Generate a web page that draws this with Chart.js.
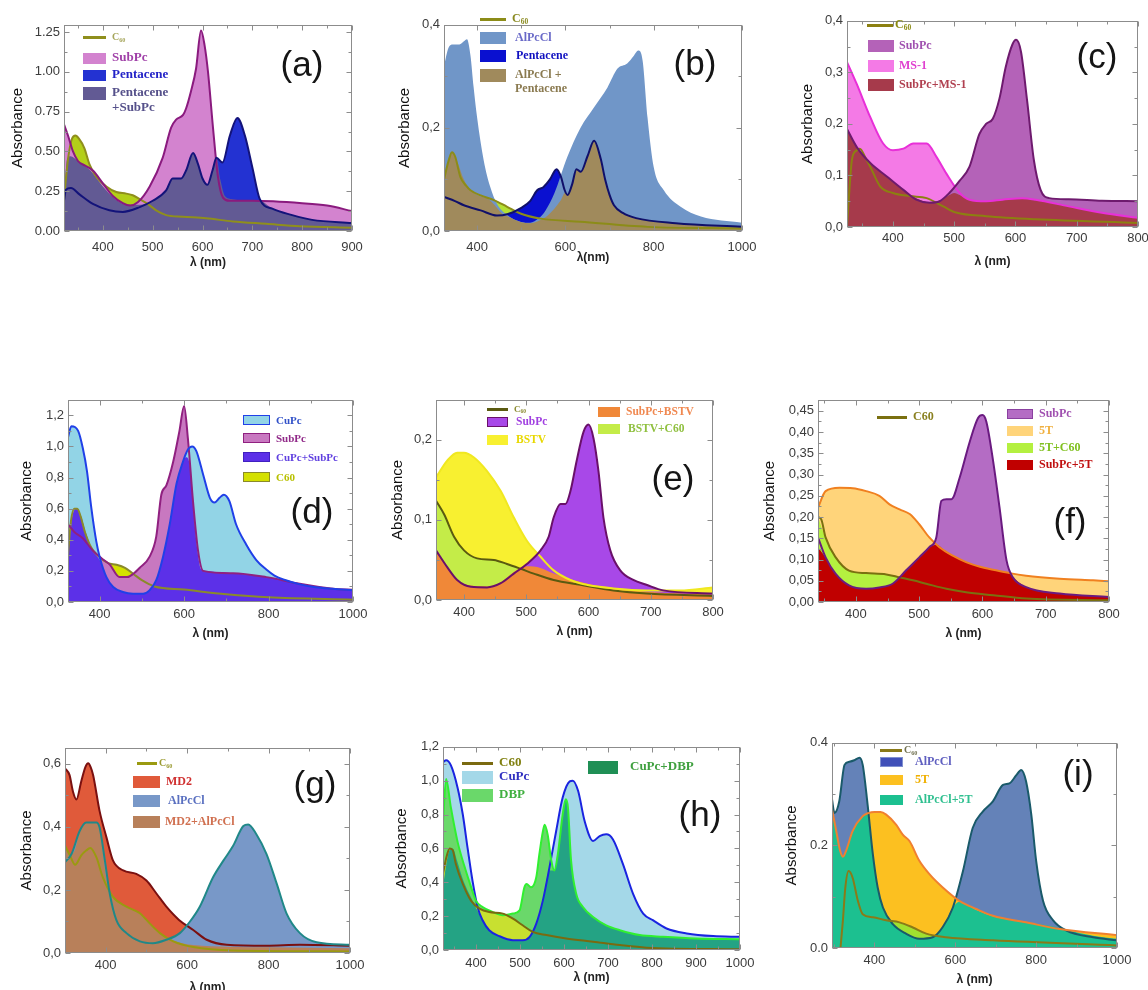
<!DOCTYPE html>
<html><head><meta charset="utf-8">
<script src="https://cdn.jsdelivr.net/npm/chart.js"></script>
<style>
body{margin:0;background:#fff;width:1148px;height:990px;position:relative;overflow:hidden;font-family:"Liberation Sans",Arial,sans-serif}
canvas.cv{position:absolute}
.bx{position:absolute;box-sizing:border-box}
.lt{position:absolute;font-family:"Liberation Serif","Times New Roman",serif;font-weight:bold;white-space:nowrap;line-height:1.15}
.lt sub{font-size:62%;vertical-align:-0.25em}
.tag{position:absolute;font-family:"Liberation Sans",Arial,sans-serif;color:#151515;line-height:1;transform:translate(-50%,-50%)}
</style></head><body>
<script>
// ---------- data: wavelength (nm) and absorbance ----------
// (a)
const a_c60_nm=[322,330,338,345,352,363,373,387,407,427,447,460,474,490,507,527,560,607,661,728,795,900];
const a_c60_abs=[0.2,0.45,0.58,0.6,0.58,0.52,0.42,0.34,0.28,0.245,0.235,0.225,0.2,0.17,0.13,0.1,0.09,0.08,0.06,0.045,0.03,0.02];
const a_subpc_nm=[322,330,340,350,365,380,400,420,440,455,470,494,520,537,547,561,567,577,587,597,604,611,621,631,641,654,700,800,850,900];
const a_subpc_abs=[0.67,0.6,0.5,0.44,0.41,0.38,0.3,0.22,0.175,0.16,0.18,0.28,0.46,0.65,0.7,0.73,0.77,0.88,1.02,1.26,1.17,1.0,0.65,0.34,0.21,0.19,0.19,0.175,0.16,0.125];
const a_pent_nm=[322,326,336,353,380,413,440,474,500,527,540,557,567,581,591,600,610,620,628,640,655,670,685,700,715,740,780,820,900];
const a_pent_abs=[0.19,0.26,0.27,0.23,0.17,0.13,0.12,0.15,0.19,0.255,0.33,0.33,0.38,0.49,0.42,0.33,0.29,0.38,0.46,0.43,0.6,0.71,0.6,0.4,0.2,0.14,0.1,0.07,0.05];
const a_mix_nm=[322,328,335,350,375,400,425,450,475,500,527,540,557,567,581,591,600,610,620,628,636,645,660,700,715,740,780,820,900];
const a_mix_abs=[0.19,0.45,0.47,0.44,0.38,0.28,0.2,0.165,0.165,0.19,0.255,0.33,0.33,0.38,0.49,0.42,0.33,0.29,0.38,0.46,0.32,0.22,0.2,0.19,0.19,0.14,0.1,0.07,0.05];
// (b)
const b_c60_nm=[325,335,343,350,362,375,385,408,438,468,498,544,634,786,1000];
const b_c60_abs=[0.1,0.135,0.153,0.145,0.105,0.088,0.079,0.069,0.06,0.047,0.034,0.024,0.018,0.008,0.005];
const b_alpc_nm=[325,335,345,360,370,377,385,392,400,415,430,445,468,498,520,540,555,575,604,634,665,695,718,740,755,765,775,786,800,823,861,907,1000];
const b_alpc_abs=[0.32,0.355,0.362,0.362,0.368,0.372,0.34,0.28,0.22,0.137,0.085,0.053,0.031,0.018,0.016,0.025,0.04,0.073,0.143,0.2,0.24,0.278,0.315,0.325,0.34,0.35,0.33,0.22,0.124,0.079,0.047,0.028,0.016];
const b_pent_nm=[325,350,370,408,445,470,500,520,536,550,565,580,590,598,605,615,625,635,650,665,680,690,700,710,730,760,850,1000];
const b_pent_abs=[0.066,0.058,0.05,0.04,0.03,0.033,0.045,0.058,0.079,0.085,0.1,0.12,0.105,0.08,0.07,0.09,0.12,0.115,0.145,0.175,0.14,0.1,0.07,0.05,0.035,0.025,0.015,0.008];
const b_mix_nm=[325,335,345,355,370,385,400,425,440,455,470,500,520,540,560,590,600,605,615,625,635,650,665,680,690,700,710,730,760,850,1000];
const b_mix_abs=[0.1,0.135,0.152,0.135,0.1,0.08,0.07,0.062,0.05,0.035,0.028,0.017,0.015,0.02,0.03,0.06,0.075,0.07,0.09,0.12,0.115,0.145,0.175,0.14,0.1,0.07,0.05,0.035,0.025,0.015,0.008];
// (c)
const c_c60_nm=[325,333,340,346,355,363,379,400,428,455,482,503,552,633,800];
const c_c60_abs=[0.0,0.13,0.148,0.152,0.135,0.117,0.079,0.066,0.06,0.056,0.04,0.028,0.021,0.015,0.008];
const c_subpc_nm=[325,341,363,390,417,438,460,476,492,509,525,541,552,563,574,584,595,601,609,619,630,641,655,687,741,800];
const c_subpc_abs=[0.19,0.155,0.124,0.098,0.072,0.053,0.047,0.05,0.066,0.09,0.117,0.18,0.2,0.21,0.25,0.31,0.354,0.363,0.34,0.245,0.13,0.072,0.056,0.054,0.051,0.05];
const c_ms1_nm=[325,341,363,384,400,417,433,455,471,487,509,525,552,579,611,633,687,741,800];
const c_ms1_abs=[0.32,0.277,0.213,0.162,0.149,0.152,0.162,0.162,0.136,0.104,0.066,0.053,0.05,0.053,0.056,0.053,0.04,0.0275,0.018];
const c_mix_nm=[325,341,363,390,417,438,460,476,492,500,509,525,552,579,611,633,687,741,800];
const c_mix_abs=[0.19,0.155,0.124,0.098,0.072,0.056,0.048,0.05,0.062,0.066,0.062,0.053,0.05,0.053,0.056,0.053,0.04,0.0275,0.018];
// (d)
const d_c60_nm=[325,332,340,347,355,365,380,395,420,440,460,480,500,530,600,700,800,1000];
const d_c60_abs=[0.3,0.52,0.6,0.6,0.55,0.45,0.35,0.3,0.25,0.24,0.22,0.18,0.14,0.1,0.08,0.05,0.03,0.015];
const d_cupc_nm=[325,333,349,360,370,380,392,400,416,432,455,479,503,518,534,550,566,582,597,609,619,629,645,661,672,684,694,707,723,747,771,794,814,841,872,912,951,1000];
const d_cupc_abs=[1.06,1.13,1.1,0.99,0.84,0.61,0.39,0.29,0.16,0.096,0.064,0.053,0.053,0.075,0.14,0.29,0.5,0.76,0.9,0.98,1.0,0.97,0.82,0.67,0.64,0.67,0.69,0.65,0.5,0.37,0.27,0.21,0.17,0.14,0.115,0.095,0.085,0.075];
const d_subpc_nm=[325,340,360,384,405,424,447,465,479,495,518,534,546,558,574,589,600,609,621,633,645,716,795,874,953,1000];
const d_subpc_abs=[0.5,0.45,0.41,0.33,0.28,0.24,0.16,0.16,0.18,0.22,0.29,0.42,0.69,0.75,0.9,1.1,1.26,1.05,0.65,0.33,0.2,0.185,0.16,0.117,0.085,0.079];
const d_mix_nm=[325,335,345,355,368,380,392,400,416,432,455,479,503,518,534,550,566,582,597,605,612,617,625,633,640,650,716,795,874,953,1000];
const d_mix_abs=[0.33,0.55,0.6,0.56,0.44,0.35,0.3,0.27,0.16,0.1,0.066,0.055,0.055,0.075,0.14,0.29,0.5,0.76,0.9,0.93,0.9,0.8,0.5,0.3,0.21,0.2,0.185,0.16,0.117,0.085,0.079];
// (e)
const e_c60_nm=[355,368,384,400,421,448,469,491,512,544,587,640,693,800];
const e_c60_abs=[0.124,0.107,0.079,0.062,0.052,0.05,0.045,0.039,0.033,0.025,0.019,0.012,0.008,0.005];
const e_subpc_nm=[355,373,389,411,437,459,480,501,523,536,544,555,563,571,581,592,600,608,616,624,635,651,672,693,720,800];
const e_subpc_abs=[0.062,0.041,0.025,0.0165,0.0157,0.021,0.033,0.045,0.062,0.079,0.103,0.12,0.12,0.136,0.174,0.21,0.219,0.202,0.161,0.103,0.062,0.037,0.025,0.019,0.012,0.008];
const e_bstv_nm=[355,373,389,400,416,437,459,480,501,523,544,571,597,640,693,747,800];
const e_bstv_abs=[0.153,0.174,0.184,0.184,0.178,0.161,0.136,0.103,0.074,0.054,0.037,0.025,0.019,0.0145,0.012,0.012,0.0157];
const e_sb_nm=[355,373,389,411,437,459,480,501,523,544,571,600,650,700,800];
const e_sb_abs=[0.062,0.041,0.025,0.018,0.017,0.022,0.035,0.042,0.04,0.033,0.026,0.02,0.014,0.01,0.007];
const e_bc_nm=[355,368,384,400,421,448,469,491,500,512,530,560,600,700,800];
const e_bc_abs=[0.124,0.107,0.079,0.062,0.052,0.05,0.045,0.039,0.036,0.03,0.022,0.016,0.012,0.008,0.005];
// (f)
const f_c60_nm=[340,345,352,368,389,416,448,469,490,511,543,574,617,669,800];
const f_c60_abs=[0.2,0.195,0.152,0.105,0.074,0.068,0.065,0.058,0.051,0.043,0.031,0.023,0.016,0.008,0.004];
const f_subpc_nm=[340,352,368,389,416,437,458,479,500,516,527,535,543,551,564,580,593,600,606,617,627,638,648,669,722,800];
const f_subpc_abs=[0.152,0.105,0.066,0.039,0.031,0.034,0.043,0.074,0.105,0.129,0.152,0.238,0.242,0.242,0.293,0.378,0.433,0.44,0.425,0.33,0.222,0.098,0.058,0.035,0.02,0.012];
const f_5t_nm=[340,352,374,395,416,437,453,469,485,500,516,532,553,574,596,617,643,669,722,775,800];
const f_5t_abs=[0.222,0.261,0.269,0.268,0.261,0.25,0.23,0.218,0.207,0.183,0.152,0.129,0.109,0.094,0.083,0.076,0.068,0.062,0.055,0.051,0.049];
const f_5tc_nm=[340,352,368,389,416,448,469,490,511,543,600,700,800];
const f_5tc_abs=[0.2,0.15,0.105,0.074,0.068,0.065,0.058,0.05,0.04,0.03,0.02,0.012,0.006];
const f_mix_nm=[340,352,368,389,416,437,458,479,500,516,527,540,553,574,596,617,635,643,648,669,722,800];
const f_mix_abs=[0.129,0.105,0.066,0.039,0.031,0.034,0.043,0.074,0.105,0.129,0.135,0.122,0.109,0.094,0.083,0.076,0.07,0.066,0.058,0.035,0.02,0.012];
// (g)
const g_c60_nm=[300,312,325,340,352,362,377,393,418,451,484,508,533,566,615,713,1000];
const g_c60_abs=[0.34,0.31,0.28,0.31,0.325,0.333,0.304,0.24,0.178,0.147,0.126,0.094,0.063,0.037,0.019,0.008,0.005];
const g_md2_nm=[300,311,320,328,340,350,357,363,369,385,402,418,443,475,500,525,549,580,615,648,697,795,877,1000];
const g_md2_abs=[0.586,0.565,0.51,0.487,0.545,0.59,0.602,0.59,0.565,0.45,0.366,0.293,0.262,0.251,0.23,0.188,0.147,0.105,0.073,0.042,0.026,0.023,0.026,0.023];
const g_alpc_nm=[300,316,336,352,377,385,398,410,426,451,484,516,549,582,607,631,664,689,713,738,750,770,795,820,844,877,918,1000];
const g_alpc_abs=[0.288,0.314,0.387,0.414,0.414,0.398,0.293,0.188,0.105,0.063,0.037,0.031,0.042,0.063,0.1,0.147,0.241,0.293,0.34,0.403,0.408,0.377,0.314,0.22,0.126,0.063,0.034,0.026];
const g_mix_nm=[300,312,325,336,352,377,385,393,400,405,418,451,484,508,533,566,615,700,800,1000];
const g_mix_abs=[0.345,0.31,0.33,0.387,0.414,0.414,0.398,0.32,0.25,0.22,0.178,0.147,0.126,0.094,0.063,0.04,0.025,0.02,0.018,0.015];
// (h)
const h_c60_nm=[325,333,340,347,354,370,389,408,430,461,484,506,529,560,605,666,727,787,1000];
const h_c60_abs=[0.45,0.55,0.6,0.59,0.51,0.39,0.29,0.244,0.224,0.215,0.185,0.146,0.107,0.088,0.068,0.049,0.029,0.014,0.004];
const h_cupc_nm=[325,332,343,358,370,381,392,404,415,430,453,484,506,522,537,552,567,582,597,613,620,632,647,666,681,696,711,734,757,780,802,833,879,939,1000];
const h_cupc_abs=[1.11,1.12,1.09,0.96,0.8,0.6,0.41,0.25,0.176,0.117,0.082,0.058,0.058,0.078,0.156,0.293,0.488,0.7,0.9,0.996,1.0,0.94,0.76,0.644,0.673,0.683,0.654,0.507,0.332,0.215,0.176,0.127,0.098,0.082,0.078];
const h_dbp_nm=[325,332,343,358,373,389,400,415,438,461,484,499,510,515,525,537,544,552,556,563,571,578,586,597,604,609,616,628,643,666,696,727,772,825,901,1000];
const h_dbp_abs=[0.75,1.01,0.84,0.64,0.5,0.37,0.29,0.254,0.224,0.205,0.215,0.234,0.37,0.39,0.37,0.43,0.566,0.7,0.74,0.68,0.53,0.47,0.566,0.8,0.89,0.84,0.53,0.33,0.254,0.195,0.146,0.117,0.088,0.078,0.068,0.064];
const h_mix_nm=[325,332,340,347,358,370,385,400,415,430,453,484,506,522,537,552,567,578,586,597,604,609,616,628,643,666,696,727,772,825,901,1000];
const h_mix_abs=[0.37,0.5,0.59,0.6,0.52,0.42,0.33,0.25,0.176,0.117,0.08,0.058,0.058,0.078,0.156,0.293,0.47,0.47,0.566,0.8,0.89,0.84,0.53,0.33,0.254,0.195,0.146,0.117,0.088,0.078,0.068,0.064];
// (i)
const i_c60_nm=[316,322,328,336,346,359,371,396,429,462,495,528,577,693,1000];
const i_c60_abs=[0.0,0.054,0.118,0.15,0.137,0.092,0.066,0.06,0.054,0.05,0.04,0.028,0.021,0.015,0.005];
const i_alpc_nm=[295,301,313,326,338,350,363,371,383,396,408,421,445,478,511,544,569,594,619,643,668,693,718,734,751,763,775,788,800,817,842,875,941,1000];
const i_alpc_abs=[0.29,0.263,0.286,0.357,0.363,0.366,0.371,0.357,0.28,0.183,0.118,0.079,0.047,0.028,0.018,0.021,0.041,0.079,0.15,0.234,0.266,0.286,0.318,0.321,0.337,0.347,0.325,0.26,0.17,0.092,0.054,0.034,0.021,0.015];
const i_5t_nm=[295,305,315,322,330,346,371,385,400,415,429,454,470,487,511,536,569,610,652,693,775,858,1000];
const i_5t_abs=[0.27,0.23,0.19,0.178,0.19,0.228,0.257,0.263,0.265,0.265,0.26,0.24,0.221,0.208,0.17,0.144,0.118,0.092,0.076,0.063,0.05,0.037,0.025];
const i_mix_nm=[295,305,315,322,330,346,371,383,390,396,408,421,445,478,511,544,569,594,610,652,693,775,842,875,941,1000];
const i_mix_abs=[0.27,0.23,0.19,0.178,0.19,0.228,0.257,0.262,0.23,0.183,0.118,0.079,0.047,0.028,0.018,0.021,0.041,0.079,0.09,0.074,0.062,0.05,0.042,0.035,0.024,0.018];

// ---------- tick values / labels ----------
const X_100_400_900=[400,500,600,700,800,900];
const X_200_400_1000=[400,600,800,1000];
const X_100_400_800=[400,500,600,700,800];
const X_100_400_1000=[400,500,600,700,800,900,1000];
const Y_A=[0,0.25,0.5,0.75,1,1.25], Y_A_LBL=['0.00','0.25','0.50','0.75','1.00','1.25'];
const Y_B=[0,0.2,0.4], Y_B_LBL=['0,0','0,2','0,4'];
const Y_C=[0,0.1,0.2,0.3,0.4], Y_C_LBL=['0,0','0,1','0,2','0,3','0,4'];
const Y_D=[0,0.2,0.4,0.6,0.8,1.0,1.2], Y_D_LBL=['0,0','0,2','0,4','0,6','0,8','1,0','1,2'];
const Y_E=[0,0.1,0.2], Y_E_LBL=['0,0','0,1','0,2'];
const Y_F=[0,0.05,0.1,0.15,0.2,0.25,0.3,0.35,0.4,0.45], Y_F_LBL=['0,00','0,05','0,10','0,15','0,20','0,25','0,30','0,35','0,40','0,45'];
const Y_G=[0,0.2,0.4,0.6], Y_G_LBL=['0,0','0,2','0,4','0,6'];
const Y_I=[0,0.2,0.4], Y_I_LBL=['0.0','0.2','0.4'];

const SANS='"Liberation Sans", Arial, sans-serif';
const C60H='C<sub>60</sub>';

const panels=[
 {tag:'(a)',tx:302,ty:63,frame:{l:64,t:23,r:352,b:231},xMin:322,xMax:900,yMax:1.296,
  xT:X_100_400_900,xMinor:50,yT:Y_A,yL:Y_A_LBL,yMinor:0.125,yTitleX:18,xTickOff:16,xTitleOff:32,xTitle:'λ (nm)',
  series:[
   {nm:a_mix_nm,abs:a_mix_abs,fill:'#625a94'},
   {nm:a_pent_nm,abs:a_pent_abs,fill:'#2332d2',line:'#13137a'},
   {nm:a_subpc_nm,abs:a_subpc_abs,fill:'#d383cf',line:'#8a1a7e'},
   {nm:a_c60_nm,abs:a_c60_abs,fill:'#b3cf19',line:'#8f8f1c'}],
  legend:[
   {k:'line',x:83,y:37,w:23,bg:'#8f8f1c',t:C60H,c:'#a5a55a',fs:10},
   {k:'box',x:83,y:58,w:23,h:11,bg:'#d383cf',t:'SubPc',c:'#a040a8',fs:13},
   {k:'box',x:83,y:75,w:23,h:11,bg:'#2332d2',t:'Pentacene',c:'#2323c8',fs:13},
   {k:'box',x:83,y:93,w:23,h:13,bg:'#625a94',t:'Pentacene<br>+SubPc',c:'#55508a',fs:13}]},
 {tag:'(b)',tx:695,ty:62,frame:{l:444,t:23,r:742,b:231},xMin:325,xMax:1000,yMax:0.4,
  xT:X_200_400_1000,xMinor:100,yT:Y_B,yL:Y_B_LBL,yMinor:0.1,yTitleX:405,xTickOff:16,xTitleOff:27,xTitle:'λ(nm)',
  series:[
   {nm:b_mix_nm,abs:b_mix_abs,fill:'#a08a5c'},
   {nm:b_alpc_nm,abs:b_alpc_abs,fill:'#7096c8'},
   {nm:b_pent_nm,abs:b_pent_abs,fill:'#0a10d0',line:'#10106a'},
   {nm:b_c60_nm,abs:b_c60_abs,fill:'#b4e034',line:'#8c8c18'}],
  legend:[
   {k:'line',x:480,y:19,w:26,bg:'#8c8c18',t:C60H,c:'#8a8a20',fs:12},
   {k:'box',x:480,y:38,w:26,h:12,bg:'#7096c8',t:'AlPcCl',c:'#6a6ac8',fs:12,gap:9},
   {k:'box',x:480,y:56,w:26,h:12,bg:'#0a10d0',t:'Pentacene',c:'#1010c0',fs:12,gap:10},
   {k:'box',x:480,y:75,w:26,h:13,bg:'#a08a5c',t:'AlPcCl +<br>Pentacene',c:'#8a7a50',fs:12,gap:9}]},
 {tag:'(c)',tx:1097,ty:55,frame:{l:847,t:19,r:1138,b:227},xMin:325,xMax:800,yMax:0.4,
  xT:X_100_400_800,xMinor:50,yT:Y_C,yL:Y_C_LBL,yMinor:0.05,yTitleX:808,xTickOff:11,xTitleOff:35,xTitle:'λ (nm)',
  series:[
   {nm:c_mix_nm,abs:c_mix_abs,fill:'#a63a4b'},
   {nm:c_subpc_nm,abs:c_subpc_abs,fill:'#b462b8',line:'#6e1a6e'},
   {nm:c_ms1_nm,abs:c_ms1_abs,fill:'#f47ae6',line:'#e830d8'},
   {nm:c_c60_nm,abs:c_c60_abs,line:'#8c8010'}],
  legend:[
   {k:'line',x:867,y:25,w:26,bg:'#8c8010',t:C60H,c:'#8a8a10',fs:12,gap:2},
   {k:'box',x:868,y:46,w:26,h:12,bg:'#b462b8',t:'SubPc',c:'#a050b0',fs:12,gap:5},
   {k:'box',x:868,y:66,w:26,h:12,bg:'#f47ae6',t:'MS-1',c:'#e040d0',fs:12,gap:5},
   {k:'box',x:868,y:85,w:26,h:12,bg:'#a63a4b',t:'SubPc+MS-1',c:'#b04050',fs:12,gap:5}]},
 {tag:'(d)',tx:312,ty:510,frame:{l:68,t:398,r:353,b:602},xMin:325,xMax:1000,yMax:1.30,
  xT:X_200_400_1000,xMinor:100,yT:Y_D,yL:Y_D_LBL,yMinor:0.1,yTitleX:27,xTickOff:12,xTitleOff:32,xTitle:'λ (nm)',
  series:[
   {nm:d_mix_nm,abs:d_mix_abs,fill:'#5c30e8'},
   {nm:d_cupc_nm,abs:d_cupc_abs,fill:'#92d4e6',line:'#2040e8'},
   {nm:d_subpc_nm,abs:d_subpc_abs,fill:'#c878c0',line:'#902080'},
   {nm:d_c60_nm,abs:d_c60_abs,fill:'#d4e000',line:'#8a8a2a'}],
  legend:[
   {k:'box',x:243,y:420,w:27,h:10,bg:'#92d4e6',bd:'#2040e8',t:'CuPc',c:'#3050c8',fs:11},
   {k:'box',x:243,y:438,w:27,h:10,bg:'#c878c0',bd:'#902080',t:'SubPc',c:'#902888',fs:11},
   {k:'box',x:243,y:457,w:27,h:10,bg:'#5c30e8',bd:'#4020c0',t:'CuPc+SubPc',c:'#6040e0',fs:11},
   {k:'box',x:243,y:477,w:27,h:10,bg:'#d4e000',bd:'#8a8a2a',t:'C60',c:'#b8c000',fs:11}]},
 {tag:'(e)',tx:673,ty:477,frame:{l:436,t:398,r:713,b:600},xMin:355,xMax:800,yMax:0.25,
  xT:X_100_400_800,xMinor:50,yT:Y_E,yL:Y_E_LBL,yMinor:0.05,yTitleX:398,xTickOff:12,xTitleOff:32,xTitle:'λ (nm)',
  series:[
   {nm:e_sb_nm,abs:e_sb_abs,fill:'#f08838'},
   {nm:e_bc_nm,abs:e_bc_abs,fill:'#c4ec48'},
   {nm:e_subpc_nm,abs:e_subpc_abs,fill:'#a848e8',line:'#6a106a'},
   {nm:e_bstv_nm,abs:e_bstv_abs,fill:'#f8f030',line:'#f0e820'},
   {nm:e_c60_nm,abs:e_c60_abs,line:'#5a5a10'}],
  legend:[
   {k:'line',x:487,y:409,w:21,bg:'#5a5a10',t:C60H,c:'#8a8a30',fs:9},
   {k:'box',x:487,y:422,w:21,h:10,bg:'#a848e8',bd:'#6a106a',t:'SubPc',c:'#a040e0',fs:11.5,gap:8},
   {k:'box',x:487,y:440,w:21,h:10,bg:'#f8f030',t:'BSTV',c:'#e8d800',fs:11.5,gap:8},
   {k:'box',x:598,y:412,w:22,h:10,bg:'#f08838',t:'SubPc+BSTV',c:'#f08850',fs:11.5},
   {k:'box',x:598,y:429,w:22,h:10,bg:'#c4ec48',t:'BSTV+C60',c:'#90c040',fs:11.5,gap:8}]},
 {tag:'(f)',tx:1070,ty:520,frame:{l:818,t:398,r:1109,b:602},xMin:340,xMax:800,yMax:0.476,
  xT:X_100_400_800,xMinor:50,yT:Y_F,yL:Y_F_LBL,yMinor:0.025,yTitleX:770,xTickOff:12,xTitleOff:32,xTitle:'λ (nm)',
  series:[
   {nm:f_mix_nm,abs:f_mix_abs,fill:'#c00000'},
   {nm:f_5tc_nm,abs:f_5tc_abs,fill:'#b4f040'},
   {nm:f_subpc_nm,abs:f_subpc_abs,fill:'#b46cc4',line:'#6a1a80'},
   {nm:f_5t_nm,abs:f_5t_abs,fill:'#ffd47a',line:'#f08020'},
   {nm:f_c60_nm,abs:f_c60_abs,line:'#7a7010'}],
  legend:[
   {k:'line',x:877,y:417,w:30,bg:'#7a7010',t:'C60',c:'#8a8020',fs:12},
   {k:'box',x:1007,y:414,w:26,h:10,bg:'#b46cc4',bd:'#8a40a0',t:'SubPc',c:'#a050b0',fs:12},
   {k:'box',x:1007,y:431,w:26,h:10,bg:'#ffd47a',t:'5T',c:'#f0b040',fs:12},
   {k:'box',x:1007,y:448,w:26,h:10,bg:'#b4f040',t:'5T+C60',c:'#80c020',fs:12},
   {k:'box',x:1007,y:465,w:26,h:10,bg:'#c00000',t:'SubPc+5T',c:'#c01010',fs:12}]},
 {tag:'(g)',tx:315,ty:783,frame:{l:65,t:746,r:350,b:953},xMin:300,xMax:1000,yMax:0.651,
  xT:X_200_400_1000,xMinor:100,yT:Y_G,yL:Y_G_LBL,yMinor:0.1,yTitleX:27,xTickOff:12,xTitleOff:35,xTitle:'λ (nm)',
  series:[
   {nm:g_mix_nm,abs:g_mix_abs,fill:'#b8805a'},
   {nm:g_alpc_nm,abs:g_alpc_abs,fill:'#7898c8',line:'#208888'},
   {nm:g_md2_nm,abs:g_md2_abs,fill:'#e05a3a',line:'#7a1010'},
   {nm:g_c60_nm,abs:g_c60_abs,line:'#9a9a10'}],
  legend:[
   {k:'line',x:137,y:763,w:20,bg:'#9a9a10',t:C60H,c:'#9a9a30',fs:10,gap:2},
   {k:'box',x:133,y:782,w:27,h:12,bg:'#e05a3a',t:'MD2',c:'#d03030',fs:12},
   {k:'box',x:133,y:801,w:27,h:12,bg:'#7898c8',t:'AlPcCl',c:'#5a70c0',fs:12,gap:8},
   {k:'box',x:133,y:822,w:27,h:12,bg:'#b8805a',t:'MD2+AlPcCl',c:'#d07050',fs:12,gap:5}]},
 {tag:'(h)',tx:700,ty:813,frame:{l:443,t:745,r:740,b:950},xMin:325,xMax:1000,yMax:1.2,
  xT:X_100_400_1000,xMinor:50,yT:Y_D,yL:Y_D_LBL,yMinor:0.1,yTitleX:402,xTickOff:13,xTitleOff:28,xTitle:'λ (nm)',
  series:[
   {nm:h_mix_nm,abs:h_mix_abs,fill:'#24a384'},
   {nm:h_c60_nm,abs:h_c60_abs,fill:'#c8e030',line:'#7a6a10'},
   {nm:h_dbp_nm,abs:h_dbp_abs,fill:'#6ad86a',line:'#30f030'},
   {nm:h_cupc_nm,abs:h_cupc_abs,fill:'#a4d8e8',line:'#1a24e0'}],
  legend:[
   {k:'line',x:462,y:763,w:31,bg:'#7a6a10',t:'C60',c:'#808010',fs:13},
   {k:'box',x:462,y:777,w:31,h:13,bg:'#a4d8e8',t:'CuPc',c:'#3030c0',fs:13},
   {k:'box',x:462,y:795,w:31,h:13,bg:'#6ad86a',t:'DBP',c:'#40b040',fs:13},
   {k:'box',x:588,y:767,w:30,h:13,bg:'#1f8f55',t:'CuPc+DBP',c:'#40a040',fs:13,gap:12}]},
 {tag:'(i)',tx:1078,ty:772,frame:{l:832,t:741,r:1117,b:948},xMin:295,xMax:1000,yMax:0.4,
  xT:X_200_400_1000,xMinor:100,yT:Y_I,yL:Y_I_LBL,yMinor:0.1,yTitleX:792,xTickOff:12,xTitleOff:32,xTitle:'λ (nm)',
  series:[
   {nm:i_mix_nm,abs:i_mix_abs,fill:'#1cc090'},
   {nm:i_c60_nm,abs:i_c60_abs,fill:'#a0e030',line:'#8a7a18'},
   {nm:i_5t_nm,abs:i_5t_abs,fill:'#fcc020',line:'#f08030'},
   {nm:i_alpc_nm,abs:i_alpc_abs,fill:'#6482b8',line:'#1a5a6a'}],
  legend:[
   {k:'line',x:880,y:750,w:22,bg:'#8a7a18',t:C60H,c:'#707050',fs:10,gap:2},
   {k:'box',x:880,y:762,w:23,h:10,bg:'#4050b8',bd:'#8090d0',t:'AlPcCl',c:'#6060c0',fs:12,gap:12},
   {k:'box',x:880,y:780,w:23,h:10,bg:'#fcc020',t:'5T',c:'#f0b000',fs:12,gap:12},
   {k:'box',x:880,y:800,w:23,h:10,bg:'#1cc090',t:'AlPcCl+5T',c:'#30c090',fs:12,gap:12}]}
];

function framePlugin(p){
  return {id:'frame',afterDatasetsDraw(chart){
    const {ctx,chartArea:a,scales:{x,y}}=chart;
    ctx.save();
    ctx.strokeStyle='#8c8c8c';ctx.lineWidth=1;
    const L=Math.round(a.left)+0.5,T=Math.round(a.top)+0.5,R=Math.round(a.right)-0.5,B=Math.round(a.bottom)-0.5;
    ctx.strokeRect(L,T,R-L,B-T);
    ctx.beginPath();
    for(let v=Math.ceil(p.xMin/p.xMinor)*p.xMinor; v<=p.xMax+1e-9; v+=p.xMinor){
      const px=Math.round(x.getPixelForValue(v))+0.5;
      const len=p.xT.some(t=>Math.abs(t-v)<1e-6)?5:3;
      ctx.moveTo(px,B);ctx.lineTo(px,B-len);ctx.moveTo(px,T);ctx.lineTo(px,T+len);
    }
    for(let k=0; k*p.yMinor<=p.yMax+1e-9; k++){
      const v=k*p.yMinor;
      const py=Math.round(y.getPixelForValue(v))+0.5;
      const len=p.yT.some(t=>Math.abs(t-v)<1e-6)?5:3;
      ctx.moveTo(L,py);ctx.lineTo(L+len,py);ctx.moveTo(R,py);ctx.lineTo(R-len,py);
    }
    ctx.stroke();ctx.restore();
  }};
}

function build(p){
  const Ly=60,Pt=10,Pr=26;
  const Lx=p.xTitleOff+9;
  const W=p.frame.r-p.frame.l,H=p.frame.b-p.frame.t;
  const cv=document.createElement('canvas');
  cv.className='cv';
  const cl=p.frame.l-Ly,ct=p.frame.t-Pt;
  cv.width=Ly+W+Pr;cv.height=Pt+H+Lx;
  cv.style.left=cl+'px';cv.style.top=ct+'px';
  cv.style.width=cv.width+'px';cv.style.height=cv.height+'px';
  document.body.appendChild(cv);
  const datasets=p.series.map(s=>({
    data:s.nm.map((v,i)=>({x:v,y:s.abs[i]})),
    fill:s.fill?'origin':false,
    backgroundColor:s.fill||'rgba(0,0,0,0)',
    borderColor:s.line||'rgba(0,0,0,0)',
    borderWidth:s.line?2:0.01,
    pointRadius:0,pointHoverRadius:0,
    cubicInterpolationMode:'monotone'
  }));
  new Chart(cv,{
    type:'line',
    data:{datasets},
    options:{
      responsive:false,animation:false,devicePixelRatio:1,
      layout:{padding:{top:Pt,right:Pr,left:0,bottom:0}},
      events:[],
      plugins:{legend:{display:false},tooltip:{enabled:false},filler:{drawTime:'beforeDatasetsDraw'}},
      scales:{
        x:{type:'linear',min:p.xMin,max:p.xMax,
          grid:{display:false,drawTicks:false},border:{display:false},
          afterBuildTicks:s=>{s.ticks=p.xT.map(v=>({value:v}));},
          afterFit:s=>{s.height=Lx;},
          ticks:{autoSkip:false,maxRotation:0,padding:p.xTickOff-7.8,color:'#3c3c3c',font:{size:13,family:SANS},
                 callback:(v)=>String(v)},
          title:{display:true,text:p.xTitle,color:'#222',font:{size:12,weight:'bold',family:SANS},
                 padding:{top:0,bottom:Lx-p.xTitleOff-7.2}}},
        y:{type:'linear',min:0,max:p.yMax,
          grid:{display:false,drawTicks:false},border:{display:false},
          afterBuildTicks:s=>{s.ticks=p.yT.map(v=>({value:v}));},
          afterFit:s=>{s.width=Ly;},
          ticks:{padding:4,color:'#3c3c3c',font:{size:13,family:SANS},
                 callback:(v,i)=>p.yL[i]},
          title:{display:true,text:'Absorbance',color:'#111',font:{size:15,family:SANS},
                 padding:{top:Math.max(0,p.yTitleX-cl-9),bottom:0}}}
      }
    },
    plugins:[framePlugin(p)]
  });
  // legend (html text)
  p.legend.forEach(it=>{
    const d=document.createElement('div');d.className='bx';
    if(it.k==='line'){
      Object.assign(d.style,{left:it.x+'px',top:(it.y-1.5)+'px',width:it.w+'px',height:'3px',background:it.bg});
    }else{
      Object.assign(d.style,{left:it.x+'px',top:(it.y-it.h/2)+'px',width:it.w+'px',height:it.h+'px',background:it.bg,
        border:it.bd?('1.5px solid '+it.bd):'none'});
    }
    document.body.appendChild(d);
    const t=document.createElement('div');t.className='lt';
    t.innerHTML=it.t;
    Object.assign(t.style,{left:(it.x+it.w+(it.gap??6))+'px',top:(it.y-it.fs*0.58)+'px',fontSize:it.fs+'px',color:it.c});
    document.body.appendChild(t);
  });
  const g=document.createElement('div');g.className='tag';g.textContent=p.tag;
  Object.assign(g.style,{left:p.tx+'px',top:p.ty+'px',fontSize:'35px'});
  document.body.appendChild(g);
}
panels.forEach(build);
</script>
</body></html>
